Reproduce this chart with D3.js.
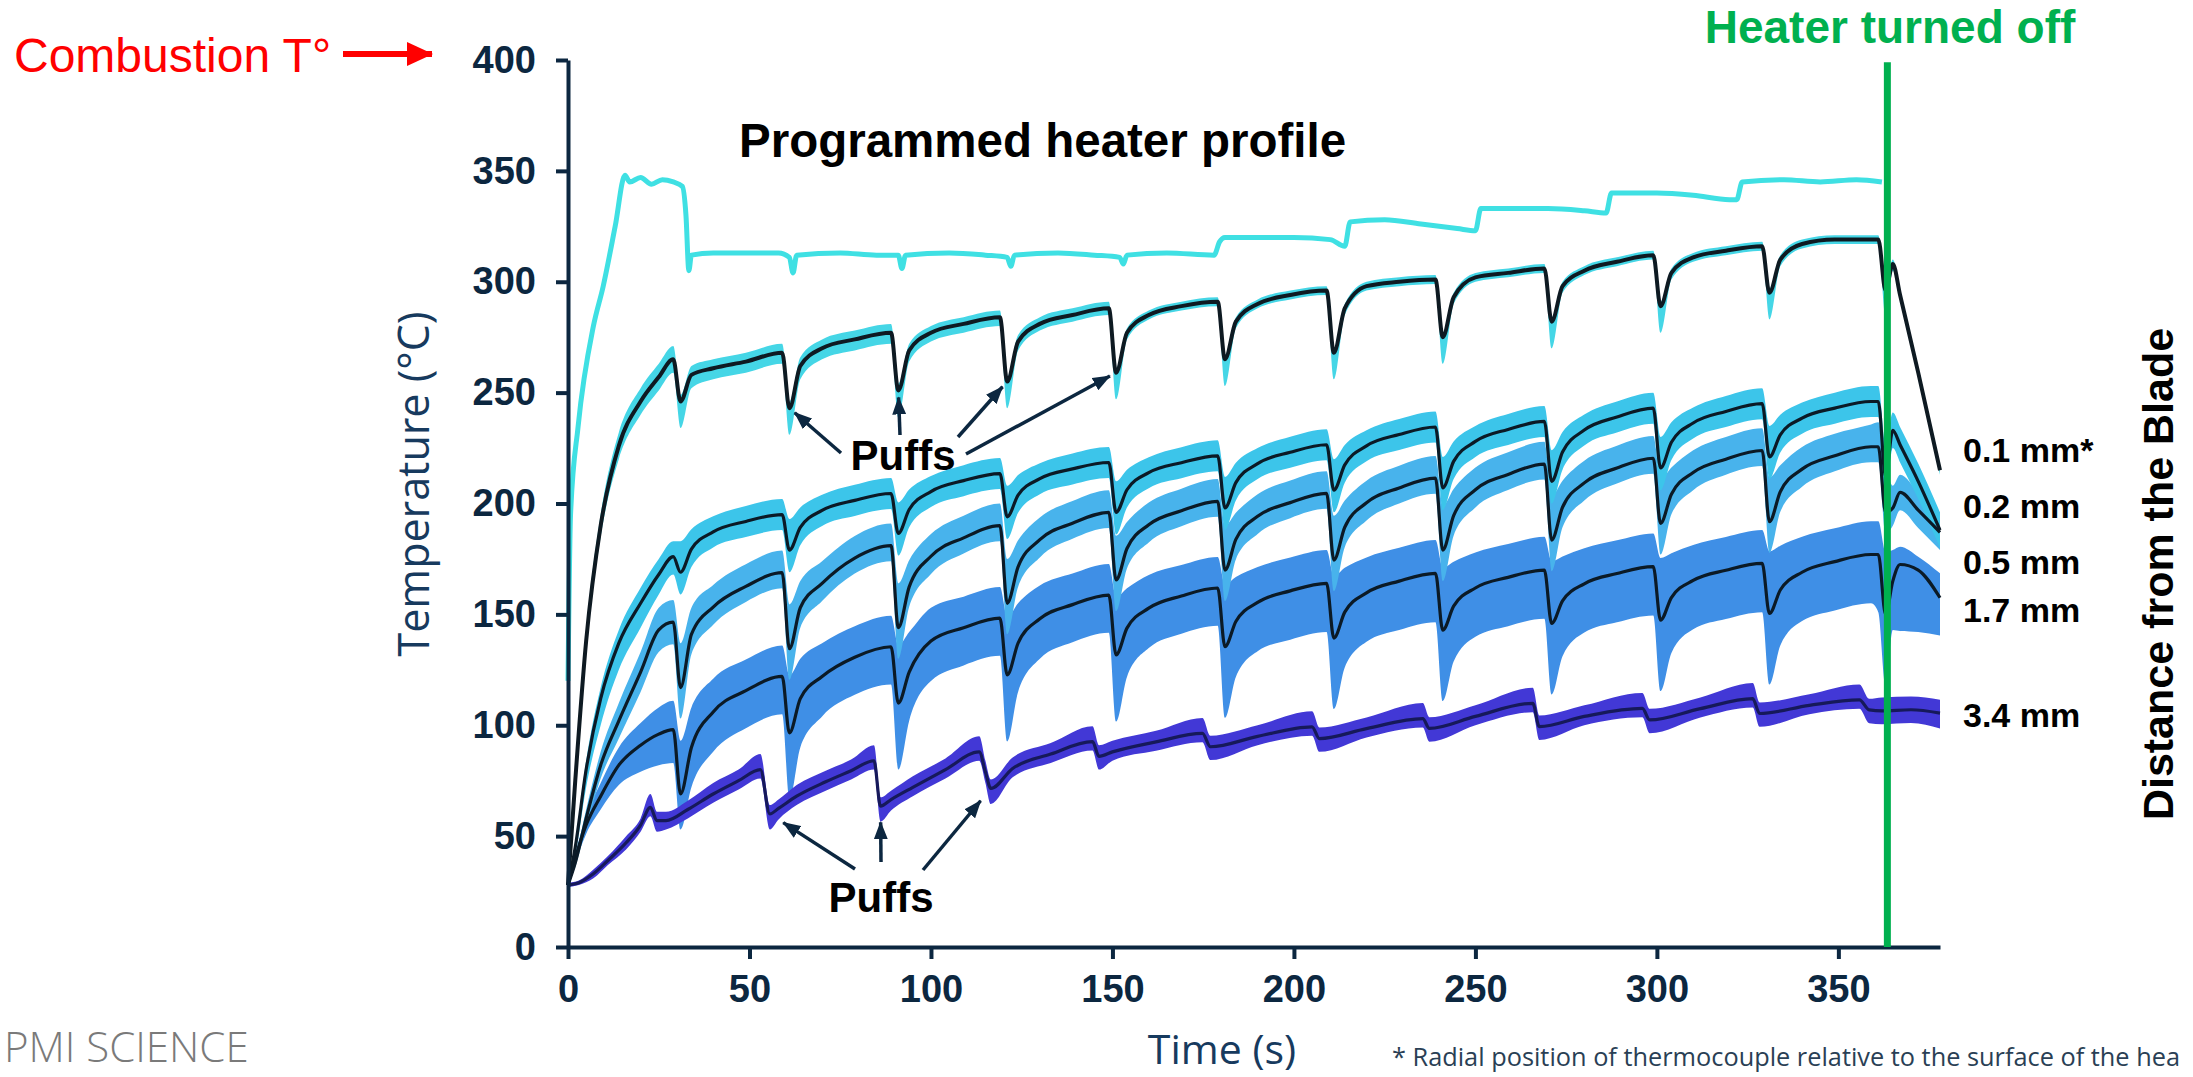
<!DOCTYPE html>
<html>
<head>
<meta charset="utf-8">
<script src="https://cdn.jsdelivr.net/npm/d3@7"></script>
<style>
body { margin:0; background:#fff; }
svg text { font-family: "Liberation Sans", Arial, sans-serif; }
</style>
</head>
<body>
<div class="chart"></div>
<script>
// sample times (s) shared by the four upper thermocouple traces
var tGrid = [0,2,5,9,14,20,25,29,
  31,34,40,49,59, 61,64,70,79,89, 91,94,100,109,119, 121,124,130,139,149,
  151,154,160,169,179, 181,184,190,199,209, 211,214,220,229,239, 241,244,250,259,269,
  271,274,280,289,299, 301,304,310,319,329, 331,334,340,349,359,
  361,363,365,367,372,378];

// 0.1 mm* (mean, spread above, spread below) in °C
var mm01 = [28,75,138,190,226,246,257,265,
  246,258,261,264,268, 243,262,270,274,277, 251,269,277,281,284, 255,273,281,285,288,
  259,277,285,289,291, 265,282,290,294,296, 268,288,298,300,301, 275,293,302,304,306,
  282,298,305,309,312, 289,304,311,314,316, 295,310,317,319,319,
  319,296,308,294,259,215];
var mm01Up = [0,3,4,5,6,6,6,6,
  3,4,4,4,4, 3,4,4,4,4, 3,3,3,3,3, 2,3,3,3,3, 2,2,2,2,2, 2,2,2,2,2,
  2,2,2,2,2, 2,2,2,2,2, 2,2,2,2,2, 2,2,2,2,2, 2,2,2,2,2,
  2,2,2,2,2,2];
var mm01Dn = [0,3,4,5,6,6,6,6,
  12,6,5,5,5, 12,6,5,5,5, 12,5,4,4,4, 12,4,3,3,3, 12,3,2,2,2, 12,3,2,2,2,
  12,3,2,2,2, 12,3,2,2,2, 12,3,2,2,2, 12,3,2,2,2, 12,3,2,2,2,
  2,12,3,2,2,2];

// 0.2 mm
var mm02 = [28,45,80,112,137,155,168,176,
  169,179.4,187.2,191.9,195, 179,189.2,196.9,201.4,204.5, 186.5,197.3,205.4,210.3,213.5,
  194,203.8,211.2,215.6,218.5, 196,206.2,213.9,218.4,221.5, 198,209.4,218,223.1,226.5,
  206,217.4,226,231.1,234.5, 207,219,228,233.4,237, 210,223.2,233.1,239,243,
  216,227.6,236.3,241.5,245, 221,231,238.5,243,246,
  246,212,233,226.5,210,188];
var mm02Up = [0,2,4,5,6,7,7,7,
  14,9,7,7,7, 14,9,7,7,7, 14,9,7,7,7, 14,9,7,7,7, 14,9,7,7,7, 14,9,7,7,7,
  14,9,7,7,7, 14,9,7,7,7, 14,9,7,7,7, 14,9,7,7,7, 14,9,7,7,7,
  7,14,8,8,8,8];
var mm02Dn = [0,4,8,12,12,11,9,8,
  10,8,7,7,7, 10,8,7,7,7, 10,8,7,7,7, 10,8,7,7,7, 10,8,7,7,7, 10,8,7,7,7,
  10,8,7,7,7, 10,8,7,7,7, 10,8,7,7,7, 10,8,7,7,7, 10,8,7,7,7,
  7,8,8,8,8,8];

// 0.5 mm
var mm05 = [28,38,58,82,102,124,143,146.5,
  117,141,153.3,162.6,168.8, 134.5,153,164,175.4,181, 144,162.4,176.2,184.5,190,
  155,171.4,183.7,191.1,196, 165.5,179.7,190.4,196.7,201, 170,183.8,194.2,200.4,204.6,
  174.5,189.3,200.3,207,211.4, 179,194.5,206.2,213.1,217.8, 183.5,198.3,209.3,216,220.4,
  191,204.2,214,220,223.9, 191.8,205.3,215.5,221.5,225.6,
  225.6,196,198,205,197,187];
var mm05Up = [0,2,4,6,8,9,10,10,
  20,12,10,10,10, 20,12,10,10,10, 20,12,10,10,10, 20,12,10,10,10, 20,12,10,10,10, 20,12,10,10,10,
  20,12,10,10,10, 20,12,10,10,10, 20,12,10,10,10, 20,12,10,10,10, 20,12,10,10,10,
  11,22,10,8,8,8];
var mm05Dn = [0,2,4,6,8,9,10,10,
  14,9,8,7,7, 14,9,8,7,7, 14,9,8,7,7, 14,9,8,7,7, 14,9,8,7,7, 14,9,8,7,7,
  14,9,8,7,7, 14,9,8,7,7, 14,9,8,7,7, 14,9,8,7,7, 14,9,8,7,7,
  7,10,8,8,8,8];

// 1.7 mm
var mm17 = [28,40,55,68,82,91,96,98,
  69,90,106,115.6,122, 96.5,112,122,130.7,135.4, 110,124,138,144,148.3,
  122.7,137,148,154.4,158.7, 131.7,143.8,152.8,158.3,161.9, 135.4,146.8,155.4,160.6,164,
  139.3,151,159.7,165,168.5, 142.9,153.7,161.9,166.7,170, 145.9,156.1,163.8,168.4,171.5,
  147.4,157.6,165.3,169.9,173, 150.4,161,169,173.8,177,
  177,150,165,172.5,170,157.5];
var mm17Up = [0,2,4,6,8,10,12,13,
  24,18,15,14,14, 26,18,15,14,14, 26,18,15,14,14, 26,18,15,14,14, 26,18,15,14,14,
  28,20,16,15,15, 28,20,16,15,15, 28,20,16,15,15, 28,20,16,15,15, 28,20,16,15,15, 28,20,16,15,15,
  15,28,14,8,6,11];
var mm17Dn = [0,2,4,6,9,12,14,15,
  16,18,18,17,17, 30,22,18,17,17, 30,22,18,17,17, 30,22,18,17,17, 30,22,18,17,17,
  32,25,22,22,22, 32,25,22,22,22, 32,25,22,22,22, 32,25,22,22,22, 32,25,22,22,22, 32,25,22,22,22,
  26,32,22,30,28,17];

// 3.4 mm has its own sample times
var tDeep = [0,3,7,11,16,20,22.7,24.5,27,33,40,47,53,55.6,58,63,71,78,84.3,86.1,89,95,104,
  113.3,115,116.5,122.5,133,144.5,146.3,150,162,174.8,177,190,205,207,220,235.5,237.3,250,
  265.8,267.6,280,296,298,312,326.4,328.3,342,355.8,358.5,362,370,378];
var mm34 = [28,29,33,39,47,55,63,57,57,62,69,75,80,60,62.5,68,74.5,79.5,84,63.5,66.5,72,80,
  88,79,71.5,80.5,87,92.6,86,88,92.5,96.3,90.3,95,99.3,94,98.5,103,98.6,104,
  109.9,99.4,104,107.6,102.4,107.5,112,105.3,109,111.4,106.9,106.5,107,105.5];
var mm34Up = [1,1,2,2,3,3,6,4,4,4,5,5,7,4,4,5,5,5,7,4,4,5,5,
  7,5,4,5,5,7,5,5,5,7,5,5,7,5,5,7,5,5,
  7,5,5,7,5,5,7,5,5,7,5,6,6,6];
var mm34Dn = [1,1,2,2,3,3,4,5,4,4,4,4,4,7,5,4,4,4,4,7,5,4,4,
  4,5,7,4,4,4,6,4,4,4,6,4,4,6,4,4,6,4,
  4,6,4,4,6,4,4,6,4,4,6,6,6,7];

// programmed heater profile
var tHeater = [0,0.7,2.8,7,9.7,13,15.7,17,20,23,26,29,31.5,32.5,33.3,34,40,50,58,61,
  62,63,75,85,91,92,93,105,115,121,122,123,135,145,152,153,154,165,178,179.5,
  181,190,200,210,214,215.5,225,235,245,250,251.5,260,270,280,286,287.5,300,310,320,322,
  323.5,335,345,355,362];
var heater = [120,195,235,280,298,325,348,345,347,344,346,345,343,330,305,312,313,313,313,311,
  304,312,313,312,312,306,312,313,312,311,307,312,313,312,311,308,312,313,312,318,
  320,320,320,319,316,327,328,326,324,323,333,333,333,332,331,340,340,339,337,337,
  345,346,345,346,345];

var xTicks = [0,50,100,150,200,250,300,350];
var yTicks = [0,50,100,150,200,250,300,350,400];
var seriesNames = ["0.1 mm*","0.2 mm","0.5 mm","1.7 mm","3.4 mm"];
var heaterOff = 363.5;
var topPuffs = [61,91,121,151];      // puffs pointed at on the 0.1 mm trace
var lowPuffs = [55.6,86.1,116.5];    // puffs pointed at on the 3.4 mm trace

var navy = "#0c2740";
var x = d3.scaleLinear().domain([0, 378]).range([568, 1940]);
var y = d3.scaleLinear().domain([0, 400]).range([947, 60]);

var svg = d3.select(".chart").append("svg")
  .attr("width", 2193).attr("height", 1077)
  .style("display", "block");

var defs = svg.append("defs");
defs.append("marker").attr("id", "headNavy")
  .attr("markerUnits", "userSpaceOnUse").attr("markerWidth", 18).attr("markerHeight", 14)
  .attr("refX", 17).attr("refY", 7).attr("orient", "auto")
  .append("path").attr("d", "M0,0L18,7L0,14Z").attr("fill", navy);
defs.append("marker").attr("id", "headRed")
  .attr("markerUnits", "userSpaceOnUse").attr("markerWidth", 26).attr("markerHeight", 24)
  .attr("refX", 25).attr("refY", 12).attr("orient", "auto")
  .append("path").attr("d", "M0,0L26,12L0,24Z").attr("fill", "#ff0000");

function rows(ts, vs, up, dn) {
  return ts.map(function (t, i) { return { t: t, v: vs[i], up: up[i], dn: dn[i] }; });
}
var s01 = rows(tGrid, mm01, mm01Up, mm01Dn);
var s02 = rows(tGrid, mm02, mm02Up, mm02Dn);
var s05 = rows(tGrid, mm05, mm05Up, mm05Dn);
var s17 = rows(tGrid, mm17, mm17Up, mm17Dn);
var s34 = rows(tDeep, mm34, mm34Up, mm34Dn);

var band = d3.area()
  .x(function (d) { return x(d.t); })
  .y0(function (d) { return y(d.v - d.dn); })
  .y1(function (d) { return y(d.v + d.up); })
  .curve(d3.curveMonotoneX);
var line = d3.line()
  .x(function (d) { return x(d.t); })
  .y(function (d) { return y(d.v); })
  .curve(d3.curveMonotoneX);

var plot = svg.append("g");
// bands, back to front
[[s17, "#3f8fe6"], [s05, "#48b3ec"], [s02, "#3cc5ea"], [s01, "#45d6e6"], [s34, "#4238d6"]]
  .forEach(function (b) {
    plot.append("path").attr("d", band(b[0])).attr("fill", b[1]);
  });

// heater profile
var heaterRows = tHeater.map(function (t, i) { return { t: t, v: heater[i] }; });
plot.append("path").attr("d", line(heaterRows))
  .attr("fill", "none").attr("stroke", "#3fe0e3").attr("stroke-width", 5)
  .attr("stroke-linejoin", "round");

// mean traces
[[s17, "#0b1a26", 3.2], [s05, "#0b1a26", 3.2], [s02, "#0b1a26", 3.2], [s01, "#0e1a22", 4], [s34, "#16195a", 3.2]]
  .forEach(function (s) {
    plot.append("path").attr("d", line(s[0]))
      .attr("fill", "none").attr("stroke", s[1]).attr("stroke-width", s[2])
      .attr("stroke-linejoin", "round");
  });

// axes
var yAxis = d3.axisLeft(y).tickValues(yTicks).tickSize(12).tickSizeOuter(0).tickPadding(20);
var xAxis = d3.axisBottom(x).tickValues(xTicks).tickSize(12).tickSizeOuter(0).tickPadding(16);

var gy = svg.append("g").attr("transform", "translate(568,0)").call(yAxis);
var gx = svg.append("g").attr("transform", "translate(0,947)").call(xAxis);
[gx, gy].forEach(function (g) {
  g.select(".domain").attr("stroke", navy).attr("stroke-width", 4);
  g.selectAll(".tick line").attr("stroke", navy).attr("stroke-width", 4);
  g.selectAll(".tick text")
    .attr("fill", navy)
    .style("font-family", "'Liberation Sans', Arial, sans-serif")
    .style("font-size", "38px").style("font-weight", "bold");
});

// heater turned off
svg.append("line")
  .attr("x1", x(heaterOff)).attr("x2", x(heaterOff))
  .attr("y1", y(0)).attr("y2", y(399))
  .attr("stroke", "#00b04f").attr("stroke-width", 7);
svg.append("text").attr("x", 1890).attr("y", 43)
  .attr("text-anchor", "middle")
  .style("font-size", "46px").style("font-weight", "bold").attr("fill", "#00b04f")
  .text("Heater turned off");

// combustion marker
svg.append("text").attr("x", 14).attr("y", 72)
  .style("font-size", "48px").attr("fill", "#ff0000")
  .text("Combustion T°");
svg.append("line")
  .attr("x1", 343).attr("x2", 432)
  .attr("y1", y(400) - 6).attr("y2", y(400) - 6)
  .attr("stroke", "#ff0000").attr("stroke-width", 6)
  .attr("marker-end", "url(#headRed)");

svg.append("text").attr("x", 739).attr("y", 157)
  .style("font-size", "47.5px").style("font-weight", "bold").attr("fill", "#000")
  .text("Programmed heater profile");

// puff annotations
function pointAt(series, t) {
  var d = series.find(function (r) { return r.t === t; });
  return [x(d.t), y(d.v)];
}
function puffs(cx, cy, tails, tips, gap) {
  svg.append("text").attr("x", cx).attr("y", cy)
    .attr("text-anchor", "middle")
    .style("font-size", "42px").style("font-weight", "bold").attr("fill", "#000")
    .text("Puffs");
  tails.forEach(function (tl, i) {
    var tx = cx + tl[0], ty = cy + tl[1];
    var p = tips[i];
    var dx = tx - p[0], dy = ty - p[1], len = Math.sqrt(dx * dx + dy * dy);
    svg.append("line")
      .attr("x1", tx).attr("y1", ty)
      .attr("x2", p[0] + dx / len * gap).attr("y2", p[1] + dy / len * gap)
      .attr("stroke", navy).attr("stroke-width", 3.5)
      .attr("marker-end", "url(#headNavy)");
  });
}
puffs(903, 470, [[-62, -17], [-3, -35], [55, -33], [63, -16]],
  topPuffs.map(function (t) { return pointAt(s01, t); }), 7);
puffs(881, 912, [[-26, -43], [0, -50], [42, -42]],
  lowPuffs.map(function (t) { return pointAt(s34, t); }), 16);

// series labels
var labelY = [462, 518, 574, 622, 727];
seriesNames.forEach(function (n, i) {
  svg.append("text").attr("x", 1963).attr("y", labelY[i])
    .style("font-size", "34px").style("font-weight", "bold").attr("fill", "#000")
    .text(n);
});
svg.append("text")
  .attr("transform", "translate(2173,574) rotate(-90)")
  .attr("text-anchor", "middle")
  .style("font-size", "43px").style("font-weight", "bold").attr("fill", "#000")
  .text("Distance from the Blade");

// axis titles and notes
svg.append("text")
  .attr("transform", "translate(429,484) rotate(-90)")
  .attr("text-anchor", "middle")
  .style("font-family", "'Open Sans', sans-serif").style("font-size", "43px")
  .attr("fill", "#173a5e")
  .text("Temperature (°C)");
svg.append("text").attr("x", 1222).attr("y", 1064)
  .attr("text-anchor", "middle")
  .style("font-family", "'Open Sans', sans-serif").style("font-size", "41px")
  .attr("fill", "#173a5e")
  .text("Time (s)");
svg.append("text").attr("x", 4).attr("y", 1062)
  .style("font-family", "'Open Sans', sans-serif").style("font-size", "42px")
  .style("font-weight", "300").attr("fill", "#7a7a7a")
  .text("PMI SCIENCE");
svg.append("text").attr("x", 1392).attr("y", 1066)
  .attr("textLength", 788).attr("lengthAdjust", "spacingAndGlyphs")
  .style("font-family", "'Open Sans', sans-serif").style("font-size", "25.5px")
  .attr("fill", "#2a3f55")
  .text("* Radial position of thermocouple relative to the surface of the hea");
</script>
</body>
</html>
